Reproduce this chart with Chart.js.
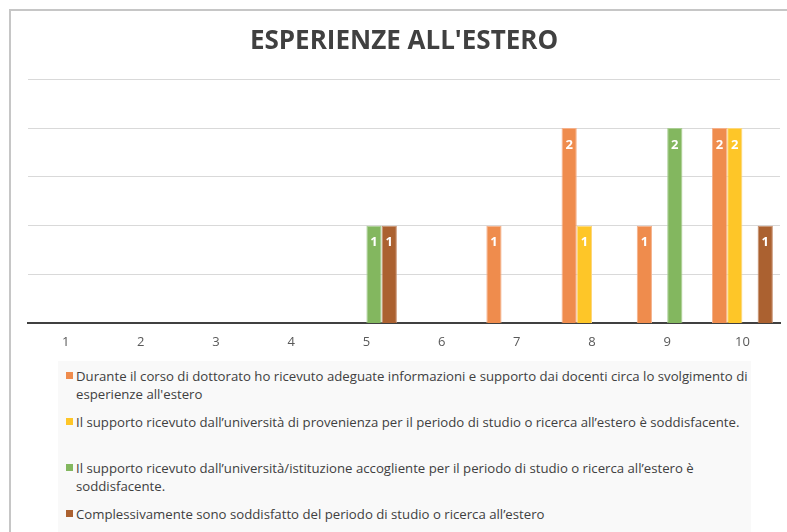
<!DOCTYPE html>
<html>
<head>
<meta charset="utf-8">
<script src="https://cdn.jsdelivr.net/npm/chart.js@4/dist/chart.umd.min.js"></script>
<style>
    html, body { margin: 0; overflow: hidden; }
    body { background: #fff; width: 787px; height: 532px; position: relative; font-family: "Open Sans", "Liberation Sans", sans-serif; }
    #frame { position: absolute; left: 9px; top: 9px; width: 900px; height: 600px; border-left: 2px solid #c6c6c6; border-top: 2px solid #c6c6c6; }
    #wrap { position: absolute; left: 0; top: 0; width: 787px; height: 353px; }
    #legend { position: absolute; left: 58px; top: 361px; width: 693px; height: 175px; background: #f9f9f9; color: #404040; font-size: 13.2px; line-height: 18px; }
    .item { position: relative; min-height: 36px; margin: 6px 0 10px 0; padding-left: 18px; padding-right: 2px; }
    .item span { position: absolute; left: 8px; top: 5px; width: 7px; height: 7px; }
</style>
</head>
<body>
<div id="frame"></div>
<div id="wrap"><canvas id="chart" width="787" height="353"></canvas></div>
<div id="legend"></div>
<script>
const categories = ['1', '2', '3', '4', '5', '6', '7', '8', '9', '10'];
const seriesNames = [
    "Durante il corso di dottorato ho ricevuto adeguate informazioni e supporto dai docenti circa lo svolgimento di esperienze all'estero",
    "Il supporto ricevuto dall\u2019università di provenienza per il periodo di studio o ricerca all\u2019estero è soddisfacente.",
    "Il supporto ricevuto dall\u2019università/istituzione accogliente per il periodo di studio o ricerca all\u2019estero è soddisfacente.",
    "Complessivamente sono soddisfatto del periodo di studio o ricerca all\u2019estero"
];
const informazioni = [0, 0, 0, 0, 0, 0, 1, 2, 1, 2];
const provenienza  = [0, 0, 0, 0, 0, 0, 0, 1, 0, 2];
const accogliente  = [0, 0, 0, 0, 1, 0, 0, 0, 2, 0];
const complessivo  = [0, 0, 0, 0, 1, 0, 0, 0, 0, 1];
const colors = ['#ef8c4d', '#fec628', '#83b75f', '#ab6130'];
const edges = ['#f5b08a', '#fed77a', '#a9cd93', '#c68e6c'];

// white value labels just under the top of each bar
const barLabels = {
    id: 'barLabels',
    afterDatasetsDraw(chart) {
        const ctx = chart.ctx;
        ctx.save();
        ctx.fillStyle = '#ffffff';
        ctx.font = 'bold 13px "Open Sans", sans-serif';
        ctx.textAlign = 'center';
        ctx.textBaseline = 'middle';
        chart.data.datasets.forEach((ds, i) => {
            chart.getDatasetMeta(i).data.forEach((bar, j) => {
                if (ds.data[j] > 0) ctx.fillText(ds.data[j], bar.x, bar.y + 17);
            });
        });
        ctx.restore();
    }
};

const allSeries = [informazioni, provenienza, accogliente, complessivo];

new Chart('chart', {
    type: 'bar',
    data: {
        labels: categories,
        datasets: allSeries.map((d, i) => ({
            label: seriesNames[i],
            data: d,
            backgroundColor: colors[i],
            borderColor: edges[i],
            borderWidth: 1
        }))
    },
    options: {
        responsive: false,
        animation: false,
        devicePixelRatio: 1,
        datasets: { bar: { categoryPercentage: 0.81, barPercentage: 1.0 } },
        layout: { padding: { left: 28, right: 7, top: 14, bottom: 0 } },
        plugins: {
            legend: { display: false },
            tooltip: { enabled: false },
            title: {
                display: true,
                text: "ESPERIENZE ALL'ESTERO",
                color: '#404040',
                font: { family: '"Open Sans", sans-serif', size: 26, weight: 'bold' },
                padding: { top: 12, bottom: 22 }
            }
        },
        scales: {
            x: {
                grid: { display: false },
                border: { color: '#404040', width: 2 },
                ticks: { color: '#595959', font: { family: '"Open Sans", sans-serif', size: 13 }, padding: 3 }
            },
            y: {
                min: 0, max: 2.5,
                ticks: { display: false, stepSize: 0.5 },
                grid: { color: '#d9d9d9', drawTicks: false },
                border: { display: false }
            }
        }
    },
    plugins: [barLabels]
});

const legend = document.getElementById('legend');
seriesNames.forEach((name, i) => {
    const div = document.createElement('div');
    div.className = 'item';
    div.innerHTML = '<span style="background:' + colors[i] + '"></span>';
    div.appendChild(document.createTextNode(name));
    legend.appendChild(div);
});
</script>
</body>
</html>
